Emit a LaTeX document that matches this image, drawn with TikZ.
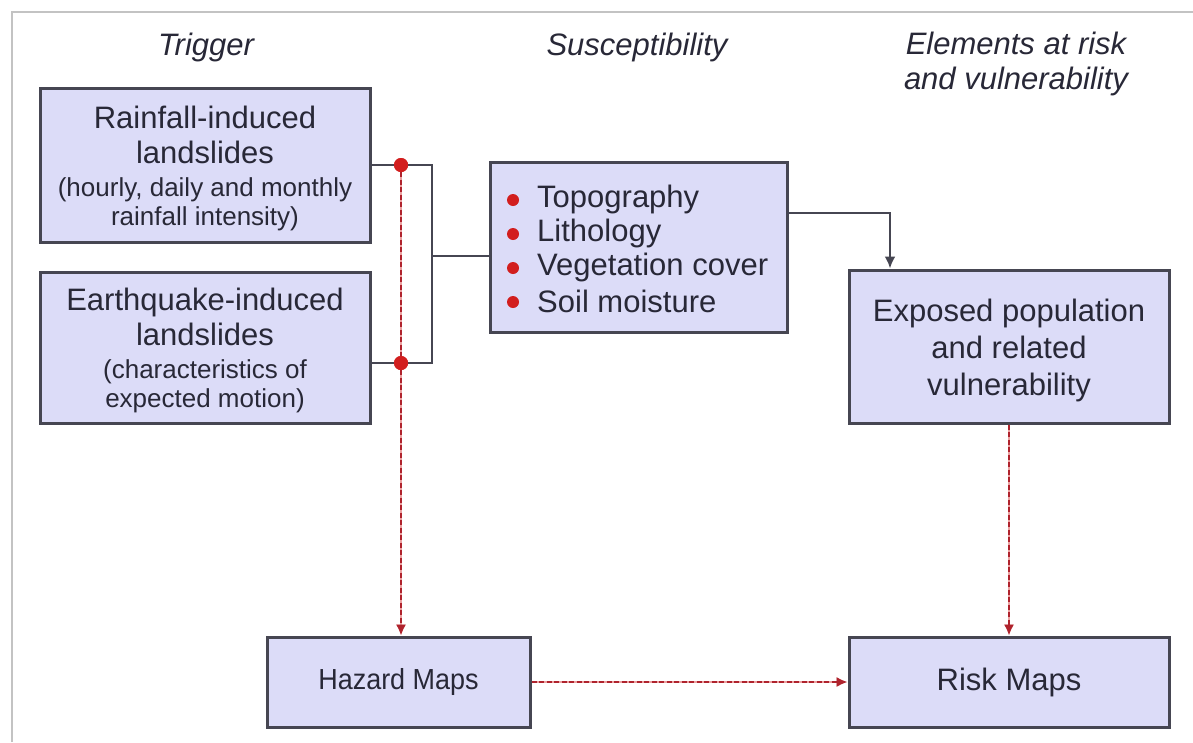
\documentclass[tikz,border=0pt]{standalone}
\usepackage{graphicx}
\usepackage{fontspec}
\setmainfont{Liberation Sans}
\usetikzlibrary{arrows.meta}
\definecolor{boxfill}{RGB}{220,220,248}
\definecolor{boxline}{RGB}{70,70,82}
\definecolor{ink}{RGB}{40,40,55}
\definecolor{dotred}{RGB}{210,30,30}
\definecolor{dashred}{RGB}{175,35,45}
\definecolor{palered}{RGB}{235,160,160}
\definecolor{framegray}{RGB}{195,195,195}
\newcommand{\bigtxt}{\fontsize{31}{36}\selectfont}
\newcommand{\smalltxt}{\fontsize{26}{30}\selectfont}
\begin{document}
\begin{tikzpicture}[x=1pt,y=-1pt,
  box/.style={draw=boxline,line width=3pt,fill=boxfill,inner sep=0pt},
  boxtext/.style={align=center,text=ink,font=\bigtxt,inner sep=0pt},
  heading/.style={align=center,text=ink,font=\bigtxt\itshape,inner sep=0pt},
  item/.style={anchor=west,text=ink,font=\bigtxt,inner sep=0pt},
  link/.style={draw=boxline,line width=2.5pt},
  hazlink/.style={draw=dashred,line width=2.2pt,dash pattern=on 5pt off 2.5pt,
    preaction={draw=palered,line width=1.4pt,solid}},
  redtip/.style={-{Latex[length=11pt,width=10pt]}},
  blacktip/.style={-{Latex[length=12pt,width=11pt]}},
  junction/.style={circle,fill=dotred,inner sep=0pt,minimum size=14pt},
  bullet/.style={circle,fill=dotred,inner sep=0pt,minimum size=12pt}
]
\useasboundingbox (0,0) rectangle (1193,742);
\fill[white] (0,0) rectangle (1193,742);
% outer frame (top and left edges)
\draw[framegray,line width=2pt] (12,742) -- (12,12) -- (1193,12);

% column headings
\node[heading] (hTrig) at (206,47) {Trigger};
\node[heading] (hSusc) at (637,47) {Susceptibility};
\node[heading] (hElem) at (1016,64) {Elements at risk\\[-1pt]and vulnerability};

% boxes
\node[box,minimum width=330pt,minimum height=154pt] (rain) at (205,165) {};
\node[box,minimum width=330pt,minimum height=151pt] (quake) at (205,347.5) {};
\node[box,minimum width=297pt,minimum height=170pt] (susc) at (638.5,247) {};
\node[box,minimum width=320pt,minimum height=153pt] (expo) at (1009,346.5) {};
\node[box,minimum width=263pt,minimum height=90pt] (hazard) at (398.5,682) {};
\node[box,minimum width=320pt,minimum height=90pt] (risk) at (1009,682) {};

% box texts
\node[boxtext] (rainT) at (205,168)
  {\bigtxt Rainfall-induced\\[-1pt] \bigtxt landslides\\[-3pt]
   \smalltxt (hourly, daily and monthly\\[-7pt] \smalltxt rainfall intensity)};
\node[boxtext] (quakeT) at (205,350.5)
  {\bigtxt Earthquake-induced\\[-1pt] \bigtxt landslides\\[-3pt]
   \smalltxt (characteristics of\\[-7pt] \smalltxt expected motion)};
\node[boxtext] (expoT) at (1009,350)
  {Exposed population\\[1pt]and related\\[1pt]vulnerability};
\node[boxtext,font=\fontsize{29}{34}\selectfont] (hazardT) at (398.5,682)
  {\scalebox{0.93}[1]{Hazard Maps}};
\node[boxtext] (riskT) at (1009,682) {Risk Maps};

% susceptibility factors
\node[bullet] (b1) at (513,200) {};
\node[bullet] (b2) at (513,234) {};
\node[bullet] (b3) at (513,268) {};
\node[bullet] (b4) at (513,302) {};
\node[item] (t1) at (537,199) {Topography};
\node[item] (t2) at (537,233) {Lithology};
\node[item] (t3) at (537,267) {Vegetation cover};
\node[item] (t4) at (537,301) {Soil moisture};

% trigger bracket joining into the susceptibility box
\coordinate (jt) at (432,165);
\coordinate (jb) at (432,363);
\coordinate (jm) at (432,256);
\draw[link] (rain.east |- jt) -- (jt) -- (jb) -- (quake.east |- jb);
\draw[link] (jm) -- (susc.west |- jm);

% susceptibility to exposed population
\coordinate (bend) at (890,213);
\draw[link,blacktip] (susc.east |- bend) -- (bend) -- (bend |- expo.north);

% hazard path
\node[junction] (d1) at (401,165) {};
\node[junction] (d2) at (401,363) {};
\draw[hazlink,redtip] (d1) -- (d2) -- (d2 |- hazard.north);
\draw[hazlink,redtip] (hazard.east) -- (risk.west);
\draw[hazlink,redtip] (expo.south) -- (risk.north);
\node[junction] at (d1) {};
\node[junction] at (d2) {};
\end{tikzpicture}
\end{document}
